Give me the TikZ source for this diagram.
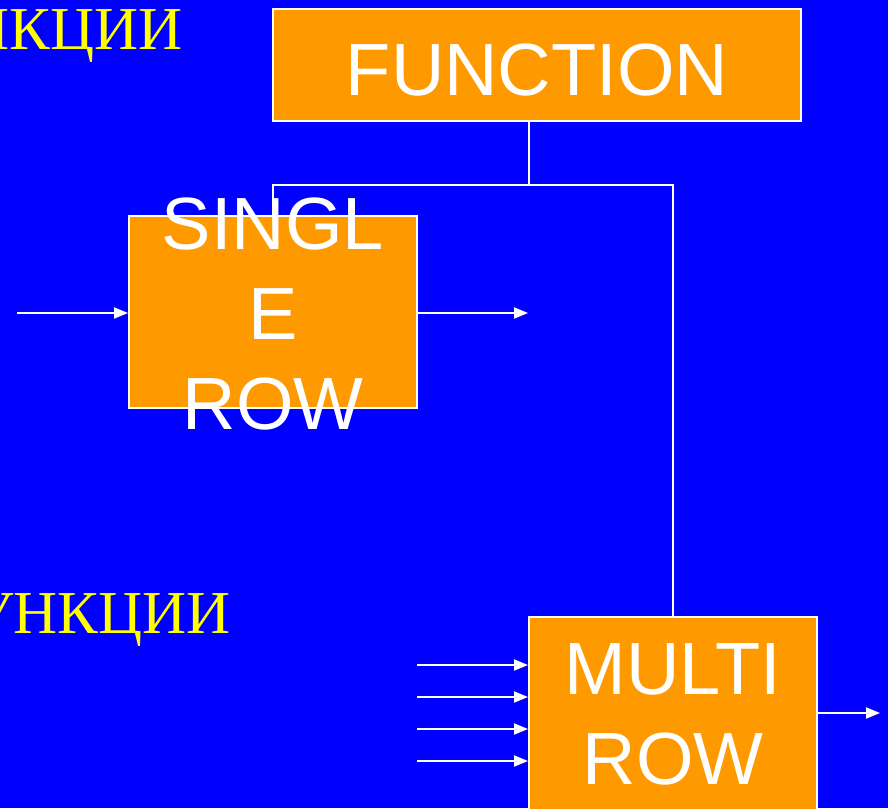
\documentclass[tikz,border=0pt]{standalone}
\usepackage{fontspec}
\setmainfont{Liberation Serif}
\newfontfamily\boxfont{Liberation Sans}
\usetikzlibrary{arrows.meta}
\definecolor{bg}{HTML}{0000FF}
\definecolor{boxfill}{HTML}{FF9900}
\definecolor{ytext}{HTML}{FFFF00}
\begin{document}
\begin{tikzpicture}[x=1pt,y=-1pt,
  conn/.style={draw=white,line width=2pt},
  arr/.style={draw=white,line width=2pt,-{Triangle[length=14pt,width=11pt]},fill=white},
  fbox/.style={draw=white,line width=2pt,fill=boxfill,inner sep=0pt,rectangle},
  btext/.style={text=white,font=\boxfont\fontsize{74}{90}\selectfont,align=center,inner sep=0pt},
  rtext/.style={text=ytext,font=\fontsize{61}{66}\selectfont,inner sep=0pt,anchor=base east}
]
\useasboundingbox (0,0) rectangle (888,808);
\fill[bg] (0,0) rectangle (888,808);
\begin{scope}
\clip (0,0) rectangle (888,808);
% boxes (named)
\node[fbox,minimum width=528pt,minimum height=112pt] (func) at (537,65) {};
\node[fbox,minimum width=288pt,minimum height=192pt] (single) at (273,312) {};
\node[fbox,minimum width=288pt,minimum height=194pt] (multi) at (673,714) {};
% coordinates
\coordinate (fj) at (529,185);
\coordinate (sin) at (17,313);
\coordinate (sout) at (528,313);
\coordinate (m1) at (417,665);
\coordinate (m2) at (417,697);
\coordinate (m3) at (417,729);
\coordinate (m4) at (417,761);
\coordinate (mout) at (880,713);
% connectors
\draw[conn] (fj |- func.south) -- (fj);
\draw[conn] (single.north) -- (single.north |- fj) -- (fj) -- (fj -| multi.north) -- (multi.north);
\draw[arr] (sin) -- (sin -| single.west);
\draw[arr] (sin -| single.east) -- (sout);
\draw[arr] (m1) -- (m1 -| multi.west);
\draw[arr] (m2) -- (m2 -| multi.west);
\draw[arr] (m3) -- (m3 -| multi.west);
\draw[arr] (m4) -- (m4 -| multi.west);
\draw[arr] (mout -| multi.east) -- (mout);
% texts
\node[btext,yshift=-5pt] (functext) at (func.center) {FUNCTION};
\node[btext,yshift=-2pt] (singletext) at (single.center) {SINGL\\E\\ROW};
\node[btext] (multitext) at (multi.center) {MULTI\\ROW};
\node[rtext] (rus1) at (183,50) {ФУНКЦИИ};
\node[rtext] (rus2) at (231,633) {ФУНКЦИИ};
\end{scope}
\end{tikzpicture}
\end{document}
